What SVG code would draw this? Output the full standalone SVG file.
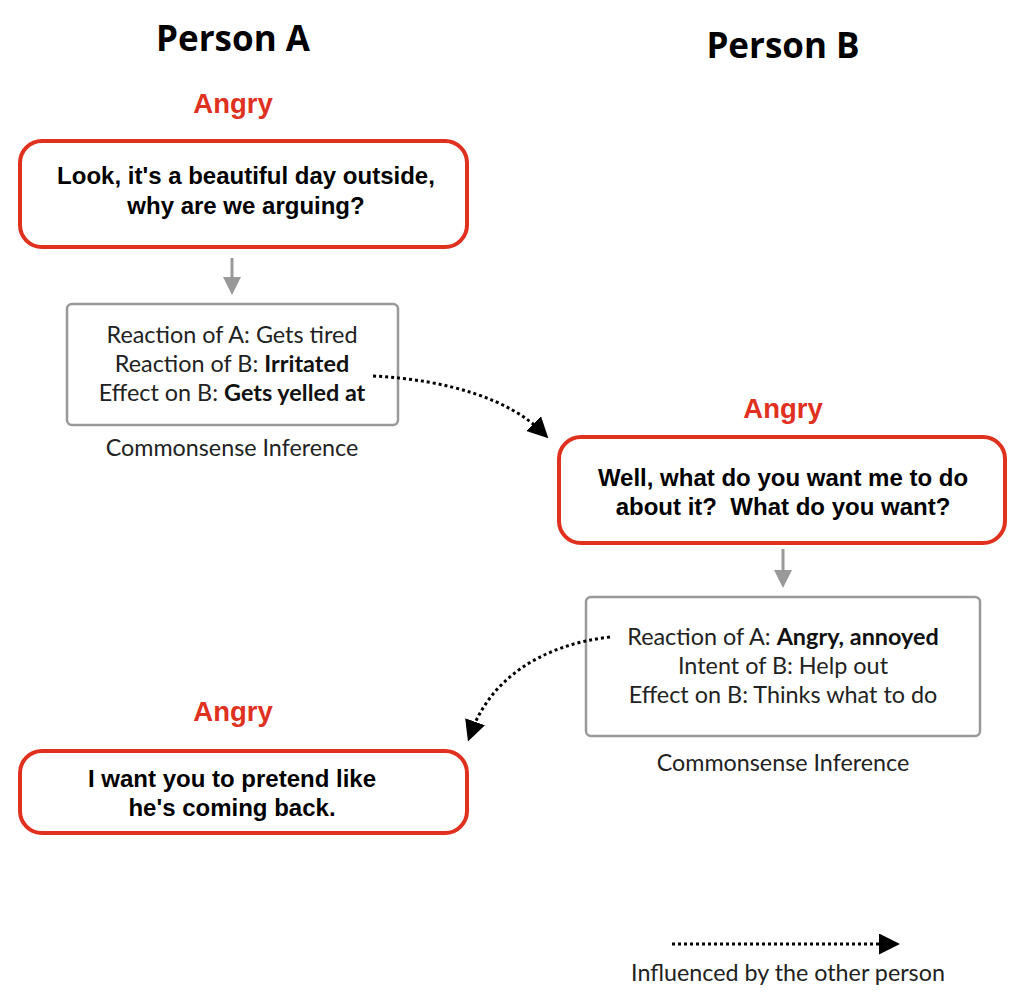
<svg xmlns="http://www.w3.org/2000/svg" width="1024" height="1000" viewBox="0 0 1024 1000">
<defs>
<style>
.title{font-family:"Open Sans",Lato,"Liberation Sans",sans-serif;font-weight:bold;font-size:35px;fill:#000;text-anchor:middle}
.emo{font-family:"Liberation Sans",Arial,sans-serif;font-weight:bold;font-size:27.5px;fill:#e0301e;text-anchor:middle}
.utt{font-family:"Liberation Sans",Arial,sans-serif;font-weight:bold;font-size:24px;fill:#000;text-anchor:middle}
.inf{font-family:Lato,"Open Sans",sans-serif;font-size:23.4px;fill:#222;text-anchor:middle}
.cap{font-family:Lato,"Open Sans",sans-serif;font-size:23.3px;fill:#222;text-anchor:middle}
.b{font-weight:bold;fill:#111}
.bub{fill:#fff;stroke:#e0301e;stroke-width:4}
.ibox{fill:#fff;stroke:#999;stroke-width:2.5}
.garr{stroke:#999;stroke-width:3;fill:none}
.dot{stroke:#000;stroke-width:3;fill:none;stroke-dasharray:3 3}
</style>
<marker id="ga" markerWidth="6" markerHeight="6" refX="3" refY="3" orient="auto" markerUnits="strokeWidth" viewBox="0 0 6 6"><path d="M0,0 L6,3 L0,6 Z" fill="#999"/></marker>
<marker id="ba" markerWidth="7" markerHeight="7" refX="4" refY="3.5" orient="auto" markerUnits="strokeWidth" viewBox="0 0 7 7"><path d="M0,0 L7,3.5 L0,7 Z" fill="#000"/></marker>
</defs>
<rect width="1024" height="1000" fill="#fff"/>
<text class="title" x="233" y="51">Person A</text>
<text class="title" x="783" y="58">Person B</text>

<g id="utt1">
<text class="emo" x="233" y="113">Angry</text>
<rect class="bub" x="20" y="141" width="447" height="106" rx="22"/>
<text class="utt" x="246" y="184">Look, it's a beautiful day outside,</text>
<text class="utt" x="246" y="214">why are we arguing?</text>
</g>

<g id="inf1">
<rect class="ibox" x="67" y="304" width="331" height="121" rx="5"/>
<text class="inf" x="232" y="343">Reaction of A: Gets tired</text>
<text class="inf" x="232" y="372">Reaction of B: <tspan class="b">Irritated</tspan></text>
<text class="inf" x="232" y="401">Effect on B: <tspan class="b">Gets yelled at</tspan></text>
<text class="cap" x="232" y="456">Commonsense Inference</text>
</g>

<g id="utt2">
<text class="emo" x="783" y="418">Angry</text>
<rect class="bub" x="559" y="437" width="446" height="106" rx="22"/>
<text class="utt" x="783" y="486">Well, what do you want me to do</text>
<text class="utt" x="783" y="515">about it?&#160; What do you want?</text>
</g>

<g id="inf2">
<rect class="ibox" x="586" y="597" width="394" height="139" rx="5"/>
<text class="inf" x="783" y="645">Reaction of A: <tspan class="b">Angry, annoyed</tspan></text>
<text class="inf" x="783" y="674">Intent of B: Help out</text>
<text class="inf" x="783" y="703">Effect on B: Thinks what to do</text>
<text class="cap" x="783" y="771">Commonsense Inference</text>
</g>

<g id="utt3">
<text class="emo" x="233" y="721">Angry</text>
<rect class="bub" x="20" y="751" width="447" height="82" rx="22"/>
<text class="utt" x="232" y="787">I want you to pretend like</text>
<text class="utt" x="232" y="816">he's coming back.</text>
</g>

<g id="legend">
<path class="dot" d="M672,944 L891,944" marker-end="url(#ba)"/>
<text class="cap" x="788" y="981">Influenced by the other person</text>
</g>

<g id="connectors">
<path class="garr" d="M232,258 L232,286" marker-end="url(#ga)"/>
<path class="garr" d="M783,549 L783,579" marker-end="url(#ga)"/>
<path class="dot" d="M373,376 C450,380 510,400 542,432" marker-end="url(#ba)"/>
<path class="dot" d="M610,637 C540,645 490,680 471,733" marker-end="url(#ba)"/>
</g>
</svg>
